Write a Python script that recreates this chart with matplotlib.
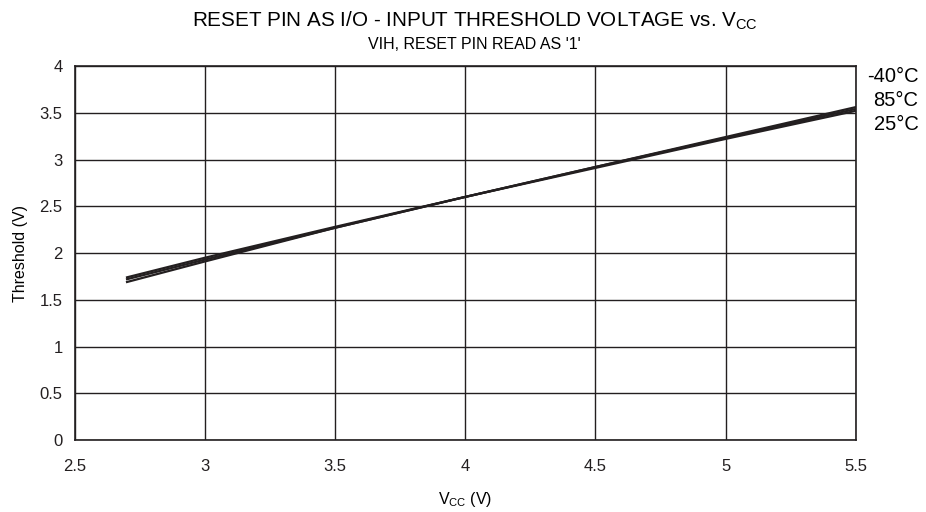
import matplotlib
matplotlib.use('Agg')
import matplotlib.pyplot as plt

plt.rcParams['font.family'] = ['Liberation Sans', 'DejaVu Sans']

# data
vcc = [2.7, 3.0, 3.5, 4.0, 4.5, 5.0, 5.5]
th_m40 = [1.69, 1.91, 2.27, 2.60, 2.92, 3.24, 3.56]
th_85 = [1.74, 1.95, 2.28, 2.60, 2.92, 3.23, 3.54]
th_25 = [1.72, 1.93, 2.27, 2.60, 2.91, 3.22, 3.52]
temps = ['-40°C', '85°C', '25°C']

fig = plt.figure(figsize=(9.26, 5.12), dpi=100)
ax = fig.add_axes([0.081, 0.1406, 0.843, 0.7305])

for y in (th_m40, th_85, th_25):
    ax.plot(vcc, y, color='#231f20', lw=1.6)

ax.set_xlim(2.5, 5.5)
ax.set_ylim(0, 4)
ax.set_xticks([2.5, 3, 3.5, 4, 4.5, 5, 5.5])
ax.set_xticklabels(['2.5', '3', '3.5', '4', '4.5', '5', '5.5'])
ax.set_yticks([0, 0.5, 1, 1.5, 2, 2.5, 3, 3.5, 4])
ax.set_yticklabels(['0', '0.5', '1', '1.5', '2', '2.5', '3', '3.5', '4'])
ax.tick_params(length=0, labelsize=12, colors='#231f20')
ax.tick_params(axis='x', pad=14)
ax.tick_params(axis='y', pad=9)
ax.grid(True, color='#231f20', lw=1)
for s in ax.spines.values():
    s.set_color('#231f20')
    s.set_linewidth(1.2)

ax.set_xlabel('V$_{\\mathregular{CC}}$ (V)', fontsize=11.5, labelpad=11)
ax.set_ylabel('Threshold (V)', fontsize=11.5, labelpad=8)

fig.text(0.513, 0.96, 'RESET PIN AS I/O - INPUT THRESHOLD VOLTAGE vs. V$_{\\mathregular{CC}}$',
         ha='center', va='center', fontsize=14.9)
fig.text(0.512, 0.914, "VIH, RESET PIN READ AS '1'", ha='center', va='center', fontsize=11.5)

for i, t in enumerate(temps):
    fig.text(0.992, 0.851 - i * 0.047, t, ha='right', va='center', fontsize=14.5)

plt.savefig('out.png', dpi=100)
